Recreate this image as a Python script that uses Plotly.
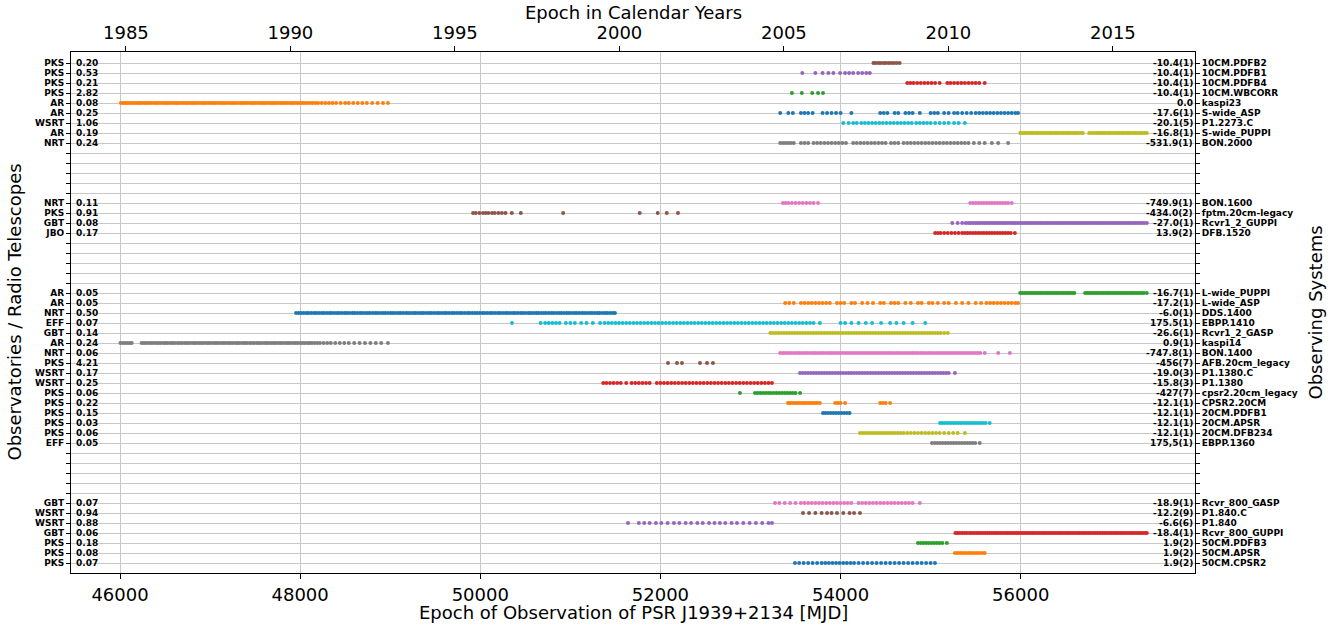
import plotly.graph_objects as go

# ---------------- data (top row first) ----------------
observatories = ["PKS", "PKS", "PKS", "PKS", "AR", "AR", "WSRT", "AR", "NRT",
                 "NRT", "PKS", "GBT", "JBO",
                 "AR", "AR", "NRT", "EFF", "GBT", "AR", "NRT", "PKS", "WSRT", "WSRT",
                 "PKS", "PKS", "PKS", "PKS", "PKS", "EFF",
                 "GBT", "WSRT", "WSRT", "GBT", "PKS", "PKS", "PKS"]
rms = ["0.20", "0.53", "0.21", "2.82", "0.08", "0.25", "1.06", "0.19", "0.24",
       "0.11", "0.91", "0.08", "0.17",
       "0.05", "0.05", "0.50", "0.07", "0.14", "0.24", "0.06", "4.21", "0.17", "0.25",
       "0.06", "0.22", "0.15", "0.03", "0.06", "0.05",
       "0.07", "0.94", "0.88", "0.06", "0.18", "0.08", "0.07"]
offsets = ["-10.4(1)", "-10.4(1)", "-10.4(1)", "-10.4(1)", "0.0", "-17.6(1)", "-20.1(5)", "-16.8(1)", "-531.9(1)",
           "-749.9(1)", "-434.0(2)", "-27.0(1)", "13.9(2)",
           "-16.7(1)", "-17.2(1)", "-6.0(1)", "175.5(1)", "-26.6(1)", "0.9(1)", "-747.8(1)", "-456(7)",
           "-19.0(3)", "-15.8(3)", "-427(7)", "-12.1(1)", "-12.1(1)", "-12.1(1)", "-12.1(1)", "175,5(1)",
           "-18.9(1)", "-12.2(9)", "-6.6(6)", "-18.4(1)", "1.9(2)", "1.9(2)", "1.9(2)"]
systems = ["10CM.PDFB2", "10CM.PDFB1", "10CM.PDFB4", "10CM.WBCORR", "kaspi23", "S-wide_ASP", "P1.2273.C",
           "S-wide_PUPPI", "BON.2000",
           "BON.1600", "fptm.20cm-legacy", "Rcvr1_2_GUPPI", "DFB.1520",
           "L-wide_PUPPI", "L-wide_ASP", "DDS.1400", "EBPP.1410", "Rcvr1_2_GASP", "kaspi14", "BON.1400",
           "AFB.20cm_legacy", "P1.1380.C", "P1.1380", "cpsr2.20cm_legacy", "CPSR2.20CM", "20CM.PDFB1",
           "20CM.APSR", "20CM.DFB234", "EBPP.1360",
           "Rcvr_800_GASP", "P1.840.C", "P1.840", "Rcvr_800_GUPPI", "50CM.PDFB3", "50CM.APSR", "50CM.CPSR2"]
rows = [0, 1, 2, 3, 4, 5, 6, 7, 8,
        14, 15, 16, 17,
        23, 24, 25, 26, 27, 28, 29, 30, 31, 32, 33, 34, 35, 36, 37, 38,
        44, 45, 46, 47, 48, 49, 50]
n_rows = 51

mjd_ticks = [46000, 48000, 50000, 52000, 54000, 56000]
year_ticks = [1985, 1990, 1995, 2000, 2005, 2010, 2015]
mjd_range = [45456, 57935]

m_10CM_PDFB2 = [54365, 54390, 54420, 54445, 54475, 54500, 54530, 54560, 54590, 54620, 54655]
m_10CM_PDFB1 = [53575, 53720, 53800, 53865, 53920, 53995, 54050, 54095, 54140, 54195, 54240, 54285, 54325]
m_10CM_PDFB4 = [54740, 54775, 54810, 54850, 54890, 54930, 54970, 55010, 55050, 55100, 55185, 55220, 55260,
                55300, 55340, 55380, 55420, 55460, 55500, 55540, 55600]
m_10CM_WBCORR = [53460, 53570, 53685, 53750, 53805]
m_kaspi23 = [46010, 46035, 46060, 46085, 46110, 46140, 46165, 46190, 46215, 46240, 46270, 46295, 46320, 46350,
             46380, 46405, 46430, 46460, 46490, 46515, 46540, 46570, 46600, 46625, 46650, 46680, 46710, 46735,
             46760, 46790, 46815, 46840, 46870, 46900, 46925, 46950, 46980, 47010, 47035, 47060, 47090, 47120,
             47145, 47170, 47200, 47230, 47255, 47280, 47310, 47340, 47365, 47390, 47420, 47450, 47475, 47500,
             47530, 47560, 47585, 47610, 47640, 47670, 47695, 47720, 47750, 47780, 47805, 47830, 47860, 47890,
             47915, 47940, 47970, 48000, 48025, 48050, 48080, 48110, 48140, 48170, 48200, 48240, 48280, 48320,
             48360, 48400, 48450, 48500, 48540, 48590, 48640, 48690, 48740, 48800, 48860, 48920, 48975]
m_S_wide_ASP = [53330, 53420, 53470, 53560, 53600, 53640, 53690, 53800, 53850, 53900, 53950, 54000, 54120,
                54440, 54480, 54520, 54600, 54640, 54720, 54760, 54800, 54880, 55000, 55040, 55080, 55150,
                55200, 55260, 55300, 55350, 55400, 55450, 55500, 55540, 55580, 55620, 55660, 55700, 55740,
                55780, 55820, 55860, 55900, 55940, 55970]
m_P1_2273_C = [54030, 54090, 54140, 54180, 54230, 54270, 54310, 54350, 54390, 54430, 54470, 54510, 54550,
               54590, 54630, 54670, 54710, 54750, 54790, 54840, 54880, 54920, 54960, 55000, 55050, 55100,
               55150, 55200, 55260, 55310, 55380]
m_S_wide_PUPPI = [55995, 56015, 56040, 56060, 56085, 56110, 56130, 56155, 56180, 56200, 56225, 56250, 56270,
                  56295, 56320, 56340, 56365, 56390, 56410, 56435, 56460, 56480, 56505, 56530, 56550, 56575,
                  56600, 56620, 56645, 56670, 56690, 56760, 56790, 56815, 56840, 56860, 56885, 56910, 56930,
                  56955, 56980, 57000, 57025, 57050, 57070, 57095, 57120, 57140, 57165, 57190, 57210, 57235,
                  57260, 57280, 57305, 57330, 57350, 57375, 57400]
m_BON_2000 = [53330, 53360, 53390, 53420, 53450, 53480, 53560, 53600, 53640, 53700, 53740, 53780, 53820, 53860,
              53900, 53940, 53980, 54020, 54060, 54140, 54180, 54220, 54260, 54300, 54340, 54380, 54420, 54460,
              54500, 54560, 54600, 54640, 54700, 54740, 54780, 54820, 54860, 54900, 54940, 54980, 55020, 55060,
              55100, 55140, 55180, 55220, 55260, 55300, 55340, 55380, 55420, 55480, 55540, 55600, 55680, 55750,
              55860]
m_BON_1600 = [53360, 53390, 53420, 53460, 53500, 53540, 53580, 53620, 53660, 53700, 53750, 55440, 55470, 55500,
              55530, 55560, 55590, 55620, 55650, 55680, 55710, 55740, 55770, 55800, 55830, 55860, 55900]
m_fptm = [49920, 49950, 49990, 50030, 50060, 50090, 50130, 50160, 50200, 50240, 50280, 50350, 50450, 50920,
          51770, 51970, 52070, 52195]
m_Rcvr1_2_GUPPI = [55240, 55300, 55350, 55390, 55420, 55445, 55470, 55495, 55520, 55545, 55570, 55595, 55620,
                   55645, 55670, 55695, 55720, 55745, 55770, 55795, 55820, 55845, 55870, 55895, 55920, 55945,
                   55970, 55995, 56020, 56045, 56070, 56095, 56120, 56145, 56170, 56195, 56220, 56245, 56270,
                   56295, 56320, 56345, 56370, 56395, 56420, 56445, 56470, 56495, 56520, 56545, 56570, 56595,
                   56620, 56645, 56670, 56695, 56720, 56745, 56770, 56795, 56820, 56845, 56870, 56895, 56920,
                   56945, 56970, 56995, 57020, 57045, 57070, 57095, 57120, 57145, 57170, 57195, 57220, 57245,
                   57270, 57295, 57320, 57345, 57370, 57400]
m_DFB_1520 = [55050, 55080, 55110, 55150, 55190, 55230, 55270, 55310, 55350, 55380, 55410, 55440, 55470, 55500,
              55530, 55560, 55590, 55620, 55650, 55680, 55710, 55740, 55770, 55800, 55830, 55860, 55890, 55935]
m_L_wide_PUPPI = [55995, 56020, 56045, 56070, 56095, 56120, 56145, 56170, 56195, 56220, 56245, 56270, 56295,
                  56320, 56345, 56370, 56395, 56420, 56445, 56470, 56495, 56520, 56545, 56570, 56595, 56715,
                  56740, 56765, 56790, 56815, 56840, 56865, 56890, 56915, 56940, 56965, 56990, 57015, 57040,
                  57065, 57090, 57115, 57140, 57165, 57190, 57215, 57240, 57265, 57290, 57315, 57340, 57365,
                  57400]
m_L_wide_ASP = [53385, 53430, 53480, 53560, 53600, 53640, 53680, 53720, 53760, 53800, 53840, 53880, 53960,
                54000, 54040, 54120, 54160, 54240, 54300, 54360, 54440, 54480, 54560, 54600, 54640, 54720,
                54780, 54860, 54900, 54980, 55020, 55080, 55150, 55200, 55280, 55350, 55420, 55500, 55560,
                55620, 55660, 55700, 55740, 55780, 55820, 55860, 55900, 55940, 55970]
m_DDS_1400 = [47955, 47985, 48010, 48040, 48070, 48095, 48125, 48155, 48180, 48210, 48240, 48265, 48295, 48325,
              48350, 48380, 48410, 48435, 48465, 48495, 48520, 48550, 48580, 48605, 48635, 48665, 48690, 48720,
              48750, 48775, 48805, 48835, 48860, 48890, 48920, 48945, 48975, 49005, 49030, 49060, 49090, 49115,
              49145, 49175, 49200, 49230, 49260, 49285, 49315, 49345, 49370, 49400, 49430, 49455, 49485, 49515,
              49540, 49570, 49600, 49625, 49655, 49685, 49710, 49740, 49770, 49795, 49825, 49855, 49880, 49910,
              49940, 49965, 49995, 50025, 50050, 50080, 50110, 50135, 50165, 50195, 50220, 50250, 50280, 50305,
              50335, 50365, 50390, 50420, 50450, 50475, 50505, 50535, 50560, 50590, 50620, 50645, 50675, 50705,
              50730, 50760, 50790, 50815, 50845, 50875, 50900, 50930, 50960, 50985, 51015, 51045, 51070, 51100,
              51130, 51155, 51185, 51215, 51240, 51270, 51300, 51325, 51355, 51385, 51410, 51440, 51470, 51495]
m_EBPP_1410 = [50352, 50670, 50720, 50760, 50800, 50840, 50880, 50950, 51000, 51050, 51120, 51180, 51250,
               51330, 51380, 51420, 51460, 51500, 51540, 51580, 51620, 51660, 51700, 51740, 51780, 51820,
               51860, 51900, 51940, 51980, 52020, 52060, 52100, 52140, 52180, 52220, 52260, 52300, 52340,
               52380, 52420, 52460, 52500, 52540, 52580, 52620, 52660, 52700, 52740, 52780, 52820, 52860,
               52900, 52940, 52980, 53020, 53060, 53100, 53140, 53180, 53220, 53260, 53300, 53340, 53380,
               53420, 53460, 53500, 53540, 53580, 53620, 53660, 53700, 53770, 54000, 54050, 54120, 54200,
               54280, 54350, 54450, 54550, 54620, 54700, 54800, 54940]
m_Rcvr1_2_GASP = [53220, 53250, 53280, 53310, 53340, 53370, 53400, 53430, 53460, 53490, 53520, 53550, 53580,
                  53610, 53640, 53670, 53700, 53730, 53760, 53790, 53820, 53850, 53880, 53910, 53940, 53970,
                  54000, 54030, 54060, 54090, 54120, 54150, 54180, 54210, 54240, 54270, 54300, 54330, 54360,
                  54390, 54420, 54450, 54480, 54510, 54540, 54570, 54600, 54630, 54660, 54690, 54720, 54750,
                  54780, 54810, 54840, 54870, 54900, 54930, 54960, 54990, 55020, 55050, 55080, 55110, 55150,
                  55190]
m_kaspi14 = [46005, 46030, 46055, 46080, 46105, 46130, 46240, 46265, 46290, 46320, 46345, 46370, 46400, 46425,
             46450, 46480, 46505, 46530, 46560, 46585, 46610, 46640, 46665, 46690, 46720, 46745, 46770, 46800,
             46825, 46850, 46880, 46905, 46930, 46960, 46985, 47010, 47040, 47065, 47090, 47120, 47145, 47170,
             47200, 47225, 47250, 47280, 47305, 47330, 47360, 47385, 47410, 47440, 47465, 47490, 47520, 47545,
             47570, 47600, 47625, 47650, 47680, 47705, 47730, 47760, 47785, 47810, 47840, 47865, 47890, 47920,
             47945, 47970, 48000, 48025, 48050, 48080, 48105, 48130, 48160, 48190, 48220, 48260, 48300, 48340,
             48390, 48440, 48490, 48540, 48600, 48660, 48720, 48780, 48840, 48900, 48975]
m_BON_1400 = [53330, 53360, 53390, 53420, 53450, 53480, 53510, 53540, 53570, 53600, 53630, 53660, 53690, 53720,
              53750, 53780, 53810, 53840, 53870, 53900, 53930, 53960, 53990, 54020, 54050, 54080, 54110, 54140,
              54170, 54200, 54230, 54260, 54290, 54320, 54350, 54380, 54410, 54440, 54470, 54500, 54530, 54560,
              54590, 54620, 54650, 54680, 54710, 54740, 54770, 54800, 54830, 54860, 54890, 54920, 54950, 54980,
              55010, 55040, 55070, 55100, 55130, 55160, 55190, 55220, 55250, 55280, 55310, 55340, 55370, 55400,
              55430, 55460, 55490, 55520, 55550, 55600, 55750, 55880]
m_AFB = [52084, 52184, 52239, 52439, 52517, 52583]
m_P1_1380_C = [53550, 53580, 53610, 53640, 53670, 53700, 53730, 53760, 53790, 53820, 53850, 53880, 53910, 53940,
               53970, 54000, 54030, 54060, 54090, 54120, 54150, 54180, 54210, 54240, 54270, 54300, 54330, 54360,
               54390, 54420, 54450, 54480, 54510, 54540, 54570, 54600, 54630, 54660, 54690, 54720, 54750, 54780,
               54810, 54840, 54870, 54900, 54930, 54960, 54990, 55020, 55050, 55080, 55110, 55140, 55170, 55200,
               55270]
m_P1_1380 = [51365, 51400, 51440, 51480, 51520, 51560, 51620, 51680, 51720, 51760, 51800, 51840, 51880, 51960,
             52000, 52040, 52080, 52120, 52160, 52200, 52240, 52280, 52320, 52360, 52400, 52440, 52480, 52520,
             52560, 52600, 52640, 52680, 52720, 52760, 52800, 52840, 52880, 52920, 52960, 53000, 53040, 53080,
             53120, 53160, 53200, 53238]
m_cpsr2_legacy = [52883, 53050, 53080, 53110, 53140, 53170, 53200, 53230, 53260, 53290, 53320, 53350, 53380,
                  53410, 53440, 53470, 53500, 53550]
m_CPSR2_20CM = [53416, 53440, 53465, 53490, 53515, 53540, 53565, 53590, 53615, 53640, 53665, 53690, 53715,
                53740, 53770, 53940, 53970, 54000, 54050, 54440, 54470, 54500, 54550]
m_20CM_PDFB1 = [53805, 53830, 53860, 53890, 53920, 53950, 53980, 54010, 54040, 54070, 54100]
m_20CM_APSR = [55105, 55130, 55160, 55190, 55220, 55250, 55280, 55310, 55340, 55370, 55400, 55430, 55460,
               55490, 55520, 55550, 55580, 55610, 55655]
m_20CM_DFB234 = [54215, 54245, 54275, 54305, 54335, 54365, 54395, 54425, 54455, 54485, 54515, 54545, 54575,
                 54605, 54635, 54665, 54700, 54740, 54780, 54820, 54860, 54900, 54940, 54980, 55020, 55060,
                 55100, 55150, 55200, 55250, 55300, 55380]
m_EBPP_1360 = [55015, 55045, 55075, 55105, 55135, 55165, 55195, 55225, 55255, 55285, 55315, 55345, 55375,
               55405, 55435, 55465, 55495, 55545]
m_Rcvr_800_GASP = [53272, 53320, 53380, 53440, 53500, 53560, 53600, 53640, 53680, 53720, 53760, 53800, 53840,
                   53880, 53920, 53960, 54000, 54040, 54080, 54120, 54200, 54240, 54280, 54320, 54360, 54400,
                   54440, 54480, 54520, 54560, 54600, 54640, 54680, 54720, 54760, 54800, 54880]
m_P1_840_C = [53583, 53650, 53720, 53790, 53850, 53900, 53960, 54030, 54100, 54150, 54215]
m_P1_840 = [51640, 51760, 51820, 51880, 51950, 52010, 52080, 52150, 52210, 52280, 52340, 52410, 52470, 52540,
            52600, 52660, 52720, 52790, 52850, 52920, 52990, 53060, 53130, 53200, 53238]
m_Rcvr_800_GUPPI = [55275, 55300, 55325, 55350, 55375, 55400, 55430, 55455, 55480, 55505, 55530, 55555, 55580,
                    55605, 55630, 55655, 55680, 55705, 55730, 55755, 55780, 55805, 55830, 55855, 55880, 55905,
                    55930, 55955, 55980, 56005, 56030, 56055, 56080, 56105, 56130, 56155, 56180, 56205, 56230,
                    56255, 56280, 56305, 56330, 56355, 56380, 56405, 56430, 56455, 56480, 56505, 56530, 56555,
                    56580, 56605, 56630, 56655, 56680, 56705, 56730, 56755, 56780, 56805, 56830, 56855, 56880,
                    56905, 56930, 56955, 56980, 57005, 57030, 57055, 57080, 57105, 57130, 57155, 57180, 57205,
                    57230, 57255, 57280, 57305, 57330, 57355, 57380, 57400]
m_50CM_PDFB3 = [54860, 54890, 54920, 54950, 54980, 55010, 55040, 55070, 55100, 55130, 55180]
m_50CM_APSR = [55270, 55300, 55330, 55360, 55390, 55420, 55450, 55480, 55510, 55540, 55570, 55600]
m_50CM_CPSR2 = [53494, 53540, 53590, 53640, 53690, 53740, 53790, 53830, 53870, 53910, 53950, 53990, 54030,
                54070, 54110, 54150, 54200, 54250, 54300, 54350, 54400, 54450, 54500, 54550, 54600, 54650,
                54700, 54750, 54800, 54850, 54900, 54950, 55000, 55048]

mjd_lists = [m_10CM_PDFB2, m_10CM_PDFB1, m_10CM_PDFB4, m_10CM_WBCORR, m_kaspi23, m_S_wide_ASP, m_P1_2273_C,
             m_S_wide_PUPPI, m_BON_2000,
             m_BON_1600, m_fptm, m_Rcvr1_2_GUPPI, m_DFB_1520,
             m_L_wide_PUPPI, m_L_wide_ASP, m_DDS_1400, m_EBPP_1410, m_Rcvr1_2_GASP, m_kaspi14, m_BON_1400,
             m_AFB, m_P1_1380_C, m_P1_1380, m_cpsr2_legacy, m_CPSR2_20CM, m_20CM_PDFB1, m_20CM_APSR,
             m_20CM_DFB234, m_EBPP_1360,
             m_Rcvr_800_GASP, m_P1_840_C, m_P1_840, m_Rcvr_800_GUPPI, m_50CM_PDFB3, m_50CM_APSR, m_50CM_CPSR2]

# ---------------- styling ----------------
tab10 = ["#1f77b4", "#ff7f0e", "#2ca02c", "#d62728", "#9467bd",
         "#8c564b", "#e377c2", "#7f7f7f", "#bcbd22", "#17becf"]
FONT = "DejaVu Sans"
n_sys = len(systems)


def mjd_to_year(m):
    return 2000.0 + (m - 51544.5) / 365.25


fig = go.Figure()
for i in range(n_sys):
    xs = mjd_lists[i]
    fig.add_trace(go.Scatter(
        x=xs, y=[rows[i]] * len(xs), mode="markers",
        marker=dict(size=4, color=tab10[(n_sys - 1 - i) % 10], line=dict(width=0)),
        name=systems[i], showlegend=False, hoverinfo="skip"))

# dummy trace to activate the top and right axes
fig.add_trace(go.Scatter(x=[None], y=[None], xaxis="x2", yaxis="y2", showlegend=False, hoverinfo="skip"))

left_text = [""] * n_rows
right_text = [""] * n_rows
for i in range(n_sys):
    left_text[rows[i]] = "<b>%s</b>" % observatories[i]
    right_text[rows[i]] = "<b>%s</b>" % systems[i]

yrange = [n_rows, -1.1]
grid = "#c8c8c8"

fig.update_layout(
    width=1340, height=628,
    margin=dict(l=71, r=145, t=52, b=55, autoexpand=False),
    paper_bgcolor="white", plot_bgcolor="white",
    font=dict(family=FONT, color="black"),
    xaxis=dict(range=mjd_range, tickvals=mjd_ticks, ticktext=[str(v) for v in mjd_ticks],
               ticks="outside", ticklen=5, tickcolor="black", showline=True, linecolor="black",
               linewidth=1, showgrid=True, gridcolor=grid, gridwidth=1, zeroline=False, automargin=False,
               tickfont=dict(size=18, family=FONT)),
    xaxis2=dict(range=[mjd_to_year(mjd_range[0]), mjd_to_year(mjd_range[1])], overlaying="x",
                side="top", anchor="y", tickvals=year_ticks, ticktext=[str(v) for v in year_ticks],
                ticks="outside", ticklen=5, tickcolor="black", showline=True, linecolor="black",
                linewidth=1, showgrid=False, zeroline=False, automargin=False,
                tickfont=dict(size=18, family=FONT)),
    yaxis=dict(range=yrange, tickvals=list(range(n_rows)), ticktext=left_text,
               ticks="outside", ticklen=4, tickcolor="black", showline=True, linecolor="black",
               linewidth=1, showgrid=True, gridcolor=grid, gridwidth=1, zeroline=False, automargin=False,
               tickfont=dict(size=9, family=FONT)),
    yaxis2=dict(range=yrange, overlaying="y", side="right", anchor="x",
                tickvals=list(range(n_rows)), ticktext=right_text,
                ticks="outside", ticklen=4, tickcolor="black", showline=True, linecolor="black",
                linewidth=1, showgrid=False, zeroline=False, automargin=False,
                tickfont=dict(size=9, family=FONT)),
)

ann = []
for i in range(n_sys):
    ann.append(dict(x=0, xref="paper", y=rows[i], yref="y", text="<b>%s</b>" % rms[i],
                    xanchor="left", yanchor="middle", xshift=3, showarrow=False,
                    font=dict(size=9, family=FONT, color="black")))
    ann.append(dict(x=1, xref="paper", y=rows[i], yref="y", text="<b>%s</b>" % offsets[i],
                    xanchor="right", yanchor="middle", xshift=0, showarrow=False,
                    font=dict(size=9, family=FONT, color="black")))

ann.append(dict(x=0.5, xref="paper", y=0, yref="paper", yanchor="middle", yshift=-39,
                text="Epoch of Observation of PSR J1939+2134 [MJD]", showarrow=False,
                font=dict(size=18, family=FONT)))
ann.append(dict(x=0.5, xref="paper", y=1, yref="paper", yanchor="middle", yshift=40,
                text="Epoch in Calendar Years", showarrow=False, font=dict(size=18, family=FONT)))
ann.append(dict(x=0, xref="paper", y=0.5, yref="paper", xanchor="center", xshift=-57, textangle=-90,
                text="Observatories / Radio Telescopes", showarrow=False, font=dict(size=18, family=FONT)))
ann.append(dict(x=1, xref="paper", y=0.5, yref="paper", xanchor="center", xshift=120, textangle=-90,
                text="Observing Systems", showarrow=False, font=dict(size=18, family=FONT)))
fig.update_layout(annotations=ann)

fig.write_html("out.html", config={"displayModeBar": False})

# remove the default page margin so the figure sits at the window's top-left corner
with open("out.html", "r", encoding="utf-8") as fh:
    html = fh.read()
html = html.replace("<body>", '<body style="margin:0;padding:0;overflow:hidden">', 1)
with open("out.html", "w", encoding="utf-8") as fh:
    fh.write(html)
